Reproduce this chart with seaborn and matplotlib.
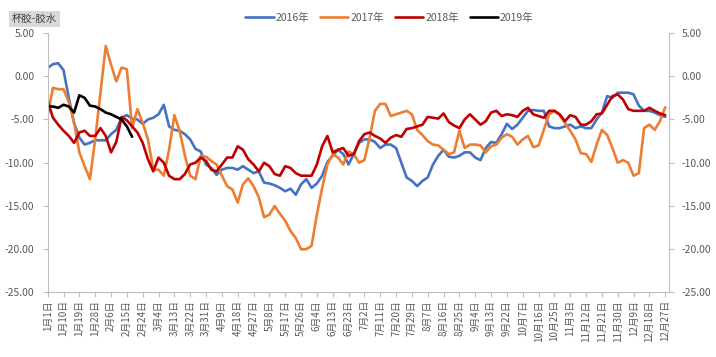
import numpy as np
import pandas as pd
import matplotlib.pyplot as plt
import seaborn as sns
from matplotlib.ticker import FormatStrFormatter

# values read every 3rd trading day (category index 0, 3, 6, ...)
step = 3

y2016 = [0.96, 1.4, 1.5, 0.7, -2.5, -5.4, -7.1, -7.9, -7.7, -7.4, -7.4, -7.4, -6.7, -6.2, -4.8,
         -4.5, -4.9, -5.0, -5.5, -5.0, -4.8, -4.4, -3.3, -5.8, -6.2, -6.3, -6.7, -7.3, -8.4,
         -8.7, -10.2, -10.6, -11.4, -10.8, -10.6, -10.6, -10.8, -10.4, -10.8, -11.2, -11.0, -12.3, -12.4,
         -12.6, -12.9, -13.3, -13.0, -13.7, -12.5, -11.9, -12.9, -12.4, -11.5, -9.9, -9.2, -8.5, -9.0, -10.2,
         -9.0, -7.7, -7.3, -7.3, -7.6, -8.3, -7.9, -7.9, -8.3, -10.0, -11.7, -12.1, -12.7, -12.1, -11.7,
         -10.2, -9.2, -8.5, -9.3, -9.4, -9.2, -8.8, -8.8, -9.4, -9.7, -8.3, -7.6, -7.7, -6.7,
         -5.5, -6.1, -5.6, -4.8, -4.0, -3.9, -4.0, -4.0, -5.8, -6.0, -6.0, -5.8, -5.6, -6.0, -5.8, -6.0,
         -6.0, -5.0, -4.2, -2.3, -2.5, -1.9, -1.9, -1.9, -2.1, -3.4, -4.0, -4.0, -4.2, -4.5, -4.7]

y2017 = [-4.4, -1.35, -1.5, -1.5, -3.0, -5.4, -8.8, -10.4, -11.9, -7.3, -1.9, 3.5, 1.35, -0.6, 1.0,
         0.8, -6.0, -3.8, -5.4, -7.3, -10.8, -10.8, -11.5, -8.5, -4.5, -6.3, -9.2, -11.5, -11.9,
         -9.2, -9.3, -9.8, -10.2, -11.5, -12.7, -13.1, -14.6, -12.5, -11.8, -12.7, -14.0, -16.3, -16.0,
         -15.0, -15.9, -16.7, -17.9, -18.7, -20.0, -20.0, -19.6, -16.0, -12.9, -10.2, -9.0, -9.4, -10.2, -8.7,
         -9.0, -10.0, -9.7, -7.1, -4.0, -3.2, -3.2, -4.6, -4.4, -4.2, -4.0, -4.4, -6.2, -6.8, -7.5,
         -7.9, -8.0, -8.5, -9.0, -8.8, -6.3, -8.3, -7.9, -7.9, -8.0, -8.8, -8.1, -7.9, -7.1,
         -6.7, -7.0, -7.9, -7.3, -6.9, -8.2, -8.0, -6.2, -4.4, -4.0, -4.5, -5.4, -6.3, -7.3, -8.9, -9.0,
         -9.9, -7.9, -6.2, -6.8, -8.3, -10.0, -9.7, -10.0, -11.5, -11.2, -6.0, -5.6, -6.2, -5.2, -3.6]

y2018 = [-2.9, -4.8, -5.6, -6.3, -6.9, -7.7, -6.5, -6.3, -6.9, -6.9, -6.0, -6.9, -8.8, -7.6, -4.7,
         -5.1, -5.8, -6.5, -7.7, -9.6, -11.0, -9.4, -10.0, -11.5, -11.9, -11.9, -11.3, -10.2, -10.0,
         -9.4, -9.8, -10.8, -11.0, -10.2, -9.4, -9.4, -8.1, -8.5, -9.6, -10.2, -11.0, -10.0, -10.4,
         -11.3, -11.5, -10.4, -10.6, -11.2, -11.5, -11.5, -11.5, -10.2, -8.1, -6.9, -8.8, -8.5, -8.3, -9.2,
         -9.0, -7.5, -6.7, -6.5, -6.9, -7.2, -7.7, -7.1, -6.8, -7.0, -6.1, -6.0, -5.8, -5.6, -4.7,
         -4.8, -4.9, -4.3, -5.3, -5.7, -6.0, -5.0, -4.4, -5.0, -5.6, -5.2, -4.2, -4.0, -4.6,
         -4.4, -4.5, -4.7, -4.0, -3.65, -4.4, -4.6, -4.8, -4.0, -4.0, -4.4, -5.2, -4.5, -4.7, -5.6, -5.6,
         -5.2, -4.4, -4.3, -3.3, -2.3, -2.1, -2.7, -3.8, -4.0, -4.0, -4.0, -3.65, -4.0, -4.3, -4.5]

y2019 = [-3.5, -3.5, -3.65, -3.3, -3.5, -4.2, -2.2, -2.5, -3.4, -3.5, -3.8, -4.2, -4.4, -4.7,
         -5.0, -5.8, -7.0]

years = ["2016年", "2017年", "2018年", "2019年"]
colors = ["#4472C4", "#ED7D31", "#C00000", "#000000"]

date_labels = ["1月1日", "1月10日", "1月19日", "1月28日", "2月6日", "2月15日", "2月24日", "3月4日",
               "3月13日", "3月22日", "3月31日", "4月9日", "4月18日", "4月27日", "5月8日", "5月17日",
               "5月26日", "6月4日", "6月13日", "6月23日", "7月2日", "7月11日", "7月20日", "7月29日",
               "8月7日", "8月16日", "8月25日", "9月4日", "9月13日", "9月22日", "10月7日", "10月16日",
               "10月25日", "11月3日", "11月12日", "11月21日", "11月30日", "12月9日", "12月18日", "12月27日"]

sns.set_style("white")
plt.rcParams['font.family'] = ['Noto Sans CJK SC', 'DejaVu Sans']

parts = []
for name, vals in zip(years, [y2016, y2017, y2018, y2019]):
    parts.append(pd.DataFrame({"day": np.arange(len(vals)) * step, "val": vals, "year": name}))
df = pd.concat(parts, ignore_index=True)

fig, ax = plt.subplots(figsize=(7.16, 3.57), dpi=100)
fig.subplots_adjust(left=0.0666, right=0.934, top=0.9076, bottom=0.1807)

sns.lineplot(data=df, x="day", y="val", hue="year", hue_order=years,
             palette=dict(zip(years, colors)), linewidth=1.9, ax=ax)

ax.set_xlim(0, 353)
ax.set_ylim(-25, 5)
ax.set_yticks(np.arange(-25, 6, 5))
ax.yaxis.set_major_formatter(FormatStrFormatter("%.2f"))
ax.set_xticks(np.arange(len(date_labels)) * 9)
ax.set_xticklabels(date_labels, rotation=90)
ax.set_xlabel("")
ax.set_ylabel("")

grey = "#BFBFBF"
for side in ["left", "right", "bottom"]:
    ax.spines[side].set_color(grey)
    ax.spines[side].set_linewidth(0.8)
ax.spines["top"].set_visible(False)
ax.tick_params(axis="y", left=True, right=True, labelleft=True, labelright=True,
               length=3.5, width=0.8, color=grey, labelcolor="#595959", labelsize=7.5, pad=6)
ax.tick_params(axis="x", bottom=True, length=3.5, width=0.8, color=grey,
               labelcolor="#595959", labelsize=7, pad=2)

handles, labels = ax.get_legend_handles_labels()
ax.legend(handles, labels, ncol=4, frameon=False, loc="center",
          bbox_to_anchor=(0.544, 0.95), bbox_transform=fig.transFigure,
          fontsize=7.5, handlelength=2.7, handletextpad=0.2, columnspacing=1.05,
          labelcolor="#595959")

fig.text(12 / 716, 1 - 19 / 357, "杯胶-胶水", fontsize=7.5, color="#404040", va="center",
         bbox=dict(facecolor="#D9D9D9", edgecolor="none", pad=2))

fig.savefig("out.png", dpi=100)
